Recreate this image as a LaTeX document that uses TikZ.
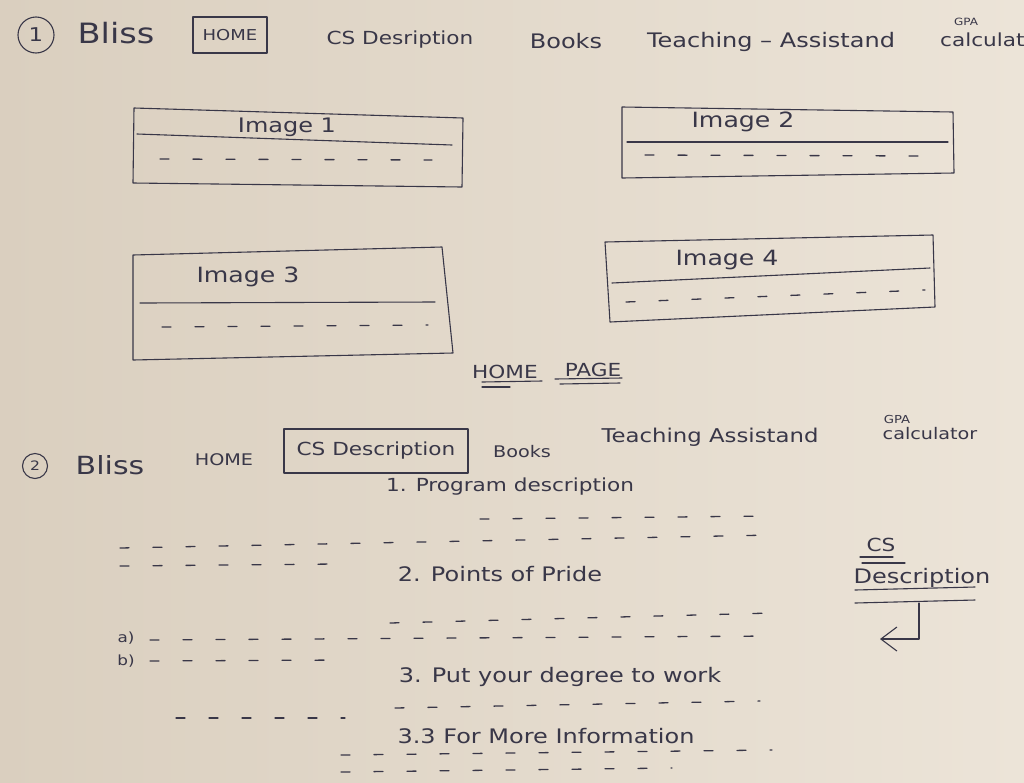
\documentclass[tikz,border=0pt]{standalone}
\usepackage{fontspec}
\setmainfont[FakeStretch=1.2]{DejaVu Sans}
\usetikzlibrary{arrows.meta}
\definecolor{ink}{HTML}{393748}
\definecolor{paperlight}{HTML}{ECE4D8}
\definecolor{paperdark}{HTML}{DACFBF}
\newcommand{\hsz}[1]{\fontsize{#1}{#1}\selectfont}
\begin{document}
\begin{tikzpicture}[x=1pt,y=-1pt,
  pen/.style={draw=ink, line width=1.1pt, line cap=round, line join=round},
  txt/.style={text=ink, inner sep=0pt},
  fillrow/.style={draw=ink, line width=1.3pt, line cap=round, dash pattern=on 9pt off 24pt},
  tab/.style={pen, inner sep=3pt, text=ink},
  bullet/.style={circle, pen, inner sep=0pt, text=ink},
  frameline/.style={pen},
]
% paper sheet
\shade[left color=paperdark, right color=paperlight] (0,0) rectangle (1024,782);
\useasboundingbox (0,0) rectangle (1024,782);

% ---------- page 1: navigation bar ----------
\node[bullet, minimum size=36pt, font=\hsz{19}] (num1) at (36,35) {1};
\node[txt, font=\hsz{28}] (bliss1) at (116,33) {Bliss};
\node[tab, minimum width=74pt, minimum height=36pt, font=\hsz{15}] (home1) at (230,35) {HOME};
\node[txt, font=\hsz{18}] (cs1) at (400,40) {CS Desription};
\node[txt, font=\hsz{20}] (books1) at (566,41) {Books};
\node[txt, font=\hsz{20}] (ta1) at (771,42) {Teaching – Assistand};
\node[txt, font=\hsz{10}] (gpa1) at (966,22) {GPA};
\node[txt, font=\hsz{18}, anchor=west] (calc1) at (940,40) {calculat};

% ---------- page 1: image panels ----------
\draw[frameline] (134,108) -- (463,118) -- (462,187) -- (133,183) -- cycle;
\draw[frameline] (137,134) -- (452,145);
\node[txt, font=\hsz{20}] (img1) at (287,127) {Image 1};
\draw[fillrow] (160,159) -- (432,160);

\draw[frameline] (622,107) -- (953,112) -- (954,173) -- (622,178) -- cycle;
\draw[frameline] (627,142) -- (948,142);
\node[txt, font=\hsz{21}] (img2) at (743,122) {Image 2};
\draw[fillrow] (645,155) -- (922,156);

\draw[frameline] (133,255) -- (442,247) -- (453,353) -- (133,360) -- cycle;
\draw[frameline] (140,303) -- (435,302);
\node[txt, font=\hsz{21}] (img3) at (248,277) {Image 3};
\draw[fillrow] (162,327) -- (428,325);

\draw[frameline] (605,242) -- (933,235) -- (935,307) -- (610,322) -- cycle;
\draw[frameline] (612,283) -- (930,268);
\node[txt, font=\hsz{21}] (img4) at (727,260) {Image 4};
\draw[fillrow] (626,302) -- (925,290);

% page caption
\node[txt, font=\hsz{18}] (hpHome) at (505,372) {HOME};
\node[txt, font=\hsz{18}] (hpPage) at (593,370) {PAGE};
\draw[pen] (482,382) -- (542,381);
\draw[pen] (482,387) -- (510,387);
\draw[pen] (555,379) -- (622,378);
\draw[pen] (560,384) -- (620,383);

% ---------- page 2: navigation bar ----------
\node[bullet, minimum size=25pt, font=\hsz{13}] (num2) at (35,466) {2};
\node[txt, font=\hsz{25}] (bliss2) at (110,465) {Bliss};
\node[txt, font=\hsz{16}] (home2) at (224,460) {HOME};
\node[tab, minimum width=184pt, minimum height=44pt, font=\hsz{18}] (cs2) at (376,451) {CS Description};
\node[txt, font=\hsz{16}] (books2) at (522,452) {Books};
\node[txt, font=\hsz{19}] (ta2) at (710,437) {Teaching Assistand};
\node[txt, font=\hsz{11}] (gpa2) at (897,419) {GPA};
\node[txt, font=\hsz{16}] (calc2) at (930,434) {calculator};

% ---------- page 2: content ----------
\node[txt, font=\hsz{18}] (sec1) at (510,487) {1. Program description};
\draw[fillrow] (480,519) -- (772,516);
\draw[fillrow] (120,548) -- (772,535);
\draw[fillrow] (120,566) -- (335,564);

\node[txt, font=\hsz{20}] (sec2) at (500,574) {2. Points of Pride};
\draw[fillrow] (390,623) -- (772,613);
\node[txt, font=\hsz{14}] (itemA) at (126,638) {a)};
\draw[fillrow] (150,640) -- (772,636);
\node[txt, font=\hsz{14}] (itemB) at (126,661) {b)};
\draw[fillrow] (150,661) -- (345,660);

\node[txt, font=\hsz{20}] (sec3) at (560,677) {3. Put your degree to work};
\draw[fillrow] (395,708) -- (760,701);
\draw[fillrow] (176,718) -- (345,718);

\node[txt, font=\hsz{20}] (sec4) at (546,736) {3.3 For More Information};
\draw[fillrow] (341,755) -- (772,750);
\draw[fillrow] (341,772) -- (672,768);

% ---------- page 2: side note ----------
\node[txt, font=\hsz{18}] (noteCS) at (881,545) {CS};
\draw[pen] (860,557) -- (893,557);
\draw[pen] (862,563) -- (905,563);
\node[txt, font=\hsz{20}] (noteDesc) at (922,578) {Description};
\draw[pen] (855,590) -- (975,587);
\draw[pen] (855,603) -- (975,600);
\coordinate (bendTop) at (919,603);
\coordinate (arrowTip) at (880,639);
\draw[pen, -{Straight Barb[length=16pt,width=24pt]}] (bendTop) |- (arrowTip);
\end{tikzpicture}
\end{document}
